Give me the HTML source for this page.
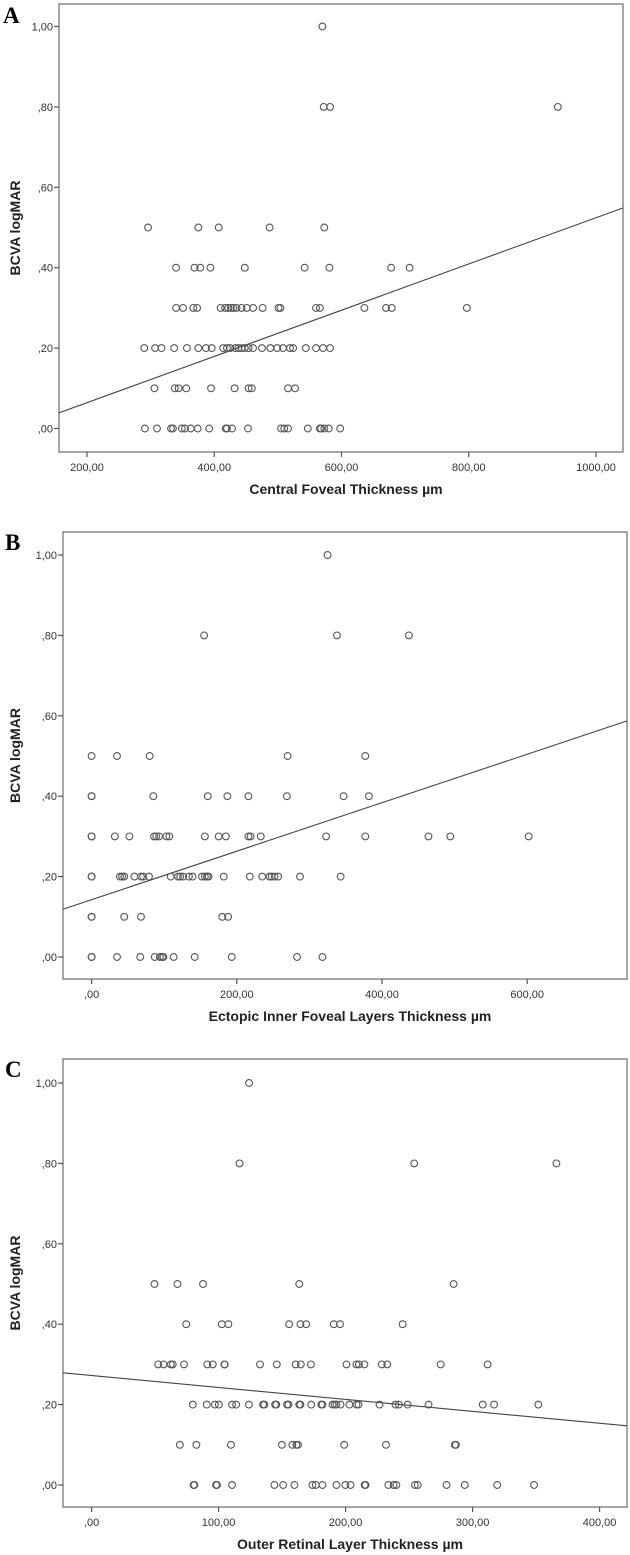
<!DOCTYPE html>
<html><head><meta charset="utf-8"><style>
html,body{margin:0;padding:0;background:#fff;}
svg{display:block;}
</style></head><body>
<svg id="chart" width="630" height="1555" viewBox="0 0 630 1555" xmlns="http://www.w3.org/2000/svg"></svg>
<script>
// ---------- DATA ----------
const yTicks = [0, 0.2, 0.4, 0.6, 0.8, 1.0];
const yTickLabels = [",00", ",20", ",40", ",60", ",80", "1,00"];

const aXTicks = [200, 400, 600, 800, 1000];
const aXTickLabels = ["200,00", "400,00", "600,00", "800,00", "1000,00"];
const aX = [570, 572,582,940,
 296,375,407,487,573,
 340,369,378,394,448,542,581,678,707,
 340,351,367,373,410,417,422,426,430,435,443,451,461,476,501,504,560,566,636,670,679,797,
 290,307,317,337,357,375,387,396,414,420,425,433,438,443,448,454,461,475,488,499,508,519,524,544,560,571,582,
 306,338,344,356,395,432,454,459,516,527,
 291,310,332,335,349,354,363,374,392,418,420,428,453,505,510,516,547,566,568,573,580,598];
const aY = [1.0, 0.8,0.8,0.8,
 0.5,0.5,0.5,0.5,0.5,
 0.4,0.4,0.4,0.4,0.4,0.4,0.4,0.4,0.4,
 0.3,0.3,0.3,0.3,0.3,0.3,0.3,0.3,0.3,0.3,0.3,0.3,0.3,0.3,0.3,0.3,0.3,0.3,0.3,0.3,0.3,0.3,
 0.2,0.2,0.2,0.2,0.2,0.2,0.2,0.2,0.2,0.2,0.2,0.2,0.2,0.2,0.2,0.2,0.2,0.2,0.2,0.2,0.2,0.2,0.2,0.2,0.2,0.2,0.2,
 0.1,0.1,0.1,0.1,0.1,0.1,0.1,0.1,0.1,0.1,
 0,0,0,0,0,0,0,0,0,0,0,0,0,0,0,0,0,0,0,0,0,0];
const aFitX = [156, 1043];
const aFitY = [0.039, 0.549];

const bXTicks = [0, 200, 400, 600];
const bXTickLabels = [",00", "200,00", "400,00", "600,00"];
const bX = [325, 155,338,437,
 0,35,80,270,377,
 0,0,85,160,187,216,269,347,382,
 0,0,32,52,86,89,93,103,107,156,175,185,216,219,233,323,377,464,494,602,
 0,0,39,42,45,59,68,71,79,109,119,122,126,134,139,152,156,159,161,182,218,235,245,248,252,257,287,343,
 0,0,45,68,180,188,
 0,0,35,67,87,94,97,99,113,142,193,283,318];
const bY = [1.0, 0.8,0.8,0.8,
 0.5,0.5,0.5,0.5,0.5,
 0.4,0.4,0.4,0.4,0.4,0.4,0.4,0.4,0.4,
 0.3,0.3,0.3,0.3,0.3,0.3,0.3,0.3,0.3,0.3,0.3,0.3,0.3,0.3,0.3,0.3,0.3,0.3,0.3,0.3,
 0.2,0.2,0.2,0.2,0.2,0.2,0.2,0.2,0.2,0.2,0.2,0.2,0.2,0.2,0.2,0.2,0.2,0.2,0.2,0.2,0.2,0.2,0.2,0.2,0.2,0.2,0.2,0.2,
 0.1,0.1,0.1,0.1,0.1,0.1,
 0,0,0,0,0,0,0,0,0,0,0,0,0];
const bFitX = [-39, 737];
const bFitY = [0.119, 0.587];

const cXTicks = [0, 100, 200, 300, 400];
const cXTickLabels = [",00", "100,00", "200,00", "300,00", "400,00"];
const cX = [124, 116.5,254,366,
 49.5,67.6,87.7,163.5,285,
 74.5,102.5,107.7,155.5,164.4,169,190.7,195.6,244.9,
 52.4,56.7,62.4,63.9,72.8,91.1,95.4,104.6,104.8,132.6,145.8,160.7,164.7,172.7,200.7,208.5,210.5,214.8,228.5,232.8,274.9,311.8,
 79.7,90.7,97.1,100.2,110.6,113.8,123.9,135,136,144.5,145.4,153.9,155,163.5,164.4,172.9,180.9,181.8,189.7,191.3,192.8,196,203,208.6,210.2,226.7,239.3,241.9,248.8,265.3,308,316.9,351.7,
 69.5,82.5,109.7,149.8,158.1,161.2,162.5,198.9,231.8,286.1,286.8,
 80.3,80.9,98,98.7,110.6,143.9,150.8,159.7,173.9,176.5,181.8,192.8,199.8,203.9,215,215.7,233.7,237.8,240,254.6,256.8,279.5,293.8,319.4,348.4];
const cY = [1.0, 0.8,0.8,0.8,
 0.5,0.5,0.5,0.5,0.5,
 0.4,0.4,0.4,0.4,0.4,0.4,0.4,0.4,0.4,
 0.3,0.3,0.3,0.3,0.3,0.3,0.3,0.3,0.3,0.3,0.3,0.3,0.3,0.3,0.3,0.3,0.3,0.3,0.3,0.3,0.3,0.3,
 0.2,0.2,0.2,0.2,0.2,0.2,0.2,0.2,0.2,0.2,0.2,0.2,0.2,0.2,0.2,0.2,0.2,0.2,0.2,0.2,0.2,0.2,0.2,0.2,0.2,0.2,0.2,0.2,0.2,0.2,0.2,0.2,0.2,
 0.1,0.1,0.1,0.1,0.1,0.1,0.1,0.1,0.1,0.1,0.1,
 0,0,0,0,0,0,0,0,0,0,0,0,0,0,0,0,0,0,0,0,0,0,0,0,0];
const cFitX = [-22.5, 422];
const cFitY = [0.279, 0.147];

// ---------- DRAWING ----------
const NS = "http://www.w3.org/2000/svg";
const svg = document.getElementById("chart");
function mk(tag, attrs, parent) {
  const e = document.createElementNS(NS, tag);
  for (const k in attrs) e.setAttribute(k, attrs[k]);
  (parent || svg).appendChild(e);
  return e;
}

function panel(cfg) {
  const g = mk("g", {});
  
  
  const L = cfg.left, R = cfg.right, T = cfg.top, B = cfg.bottom;
  const xs = v => cfg.px0 + (v - cfg.v0) * cfg.k;
  const ys = v => cfg.y0 - v * cfg.yk;

  const frame = mk("rect", {x: L, y: T, width: R - L, height: B - T, fill: "none", stroke: "#777", "stroke-width": 1.3}, g);
  
  

  const letter = mk("text", {x: cfg.letterX, y: cfg.letterY, "font-family": "Liberation Serif, serif", "font-weight": "bold", "font-size": 23, fill: "#000"}, g);
  letter.textContent = cfg.id.toUpperCase();
  
  

  yTicks.forEach((t, i) => {
    const y = ys(t);
    const tk = mk("line", {x1: L - 5, x2: L, y1: y, y2: y, stroke: "#555", "stroke-width": 1.2}, g);
    
    
    const lb = mk("text", {x: L - 6, y: y + 4, "text-anchor": "end", "font-family": "Liberation Sans, sans-serif", "font-size": 11, fill: "#333"}, g);
    lb.textContent = yTickLabels[i];
    
    
  });
  cfg.xTicks.forEach((t, i) => {
    const x = xs(t);
    const tk = mk("line", {x1: x, x2: x, y1: B, y2: B + 5, stroke: "#555", "stroke-width": 1.2}, g);
    
    
    const lb = mk("text", {x: x, y: B + 19, "text-anchor": "middle", "font-family": "Liberation Sans, sans-serif", "font-size": 11, fill: "#333"}, g);
    lb.textContent = cfg.xTickLabels[i];
    
    
  });

  const xt = mk("text", {x: (L + R) / 2 + 5, y: B + 42, "text-anchor": "middle", "font-family": "Liberation Sans, sans-serif", "font-weight": "bold", "font-size": 14, fill: "#222"}, g);
  xt.textContent = cfg.xTitle;
  
  

  const cy = (T + B) / 2;
  const yt = mk("text", {x: 20, y: cy, transform: "rotate(-90 20 " + cy + ")", "text-anchor": "middle", "font-family": "Liberation Sans, sans-serif", "font-weight": "bold", "font-size": 14, fill: "#222"}, g);
  yt.textContent = "BCVA logMAR";
  
  

  const clip = "clip-" + cfg.id;
  const cp = mk("clipPath", {id: clip}, g);
  mk("rect", {x: L, y: T, width: R - L, height: B - T}, cp);

  const fit = mk("line", {x1: xs(cfg.fitX[0]), y1: ys(cfg.fitY[0]), x2: xs(cfg.fitX[1]), y2: ys(cfg.fitY[1]), stroke: "#444", "stroke-width": 1.1, "clip-path": "url(#" + clip + ")"}, g);
  
  

  cfg.xs.forEach((v, i) => {
    const c = mk("circle", {cx: xs(v), cy: ys(cfg.ys[i]), r: 3.4, fill: "none", stroke: "#555", "stroke-width": 1.1}, g);
    
    
  });
}

panel({id: "a", left: 59, right: 623, top: 4, bottom: 452, y0: 428.5, yk: 402,
  px0: 87, v0: 200, k: 509 / 800, letterX: 3, letterY: 23,
  xTicks: aXTicks, xTickLabels: aXTickLabels, xTitle: "Central Foveal Thickness µm",
  xs: aX, ys: aY, fitX: aFitX, fitY: aFitY});
panel({id: "b", left: 63, right: 627, top: 532, bottom: 979, y0: 957, yk: 402,
  px0: 91.6, v0: 0, k: 0.726, letterX: 5, letterY: 550,
  xTicks: bXTicks, xTickLabels: bXTickLabels, xTitle: "Ectopic Inner Foveal Layers Thickness µm",
  xs: bX, ys: bY, fitX: bFitX, fitY: bFitY});
panel({id: "c", left: 63, right: 627, top: 1059, bottom: 1507, y0: 1485, yk: 402,
  px0: 91.6, v0: 0, k: 1.27, letterX: 5, letterY: 1077,
  xTicks: cXTicks, xTickLabels: cXTickLabels, xTitle: "Outer Retinal Layer Thickness µm",
  xs: cX, ys: cY, fitX: cFitX, fitY: cFitY});
</script>
</body></html>
